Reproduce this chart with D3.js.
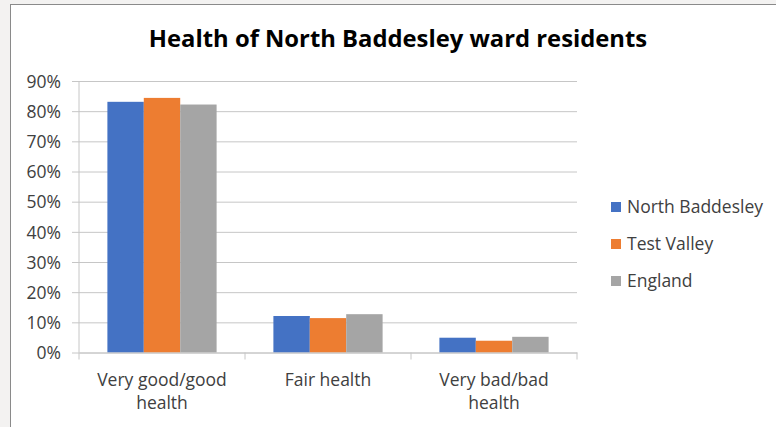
<!DOCTYPE html>
<html><head><meta charset="utf-8">
<script src="https://cdn.jsdelivr.net/npm/d3@7/dist/d3.min.js"></script>
<style>
html,body{margin:0;padding:0;background:#f3f2f1;}
svg{display:block;}
text{font-family:"Open Sans",sans-serif;fill:#404040;}
</style></head>
<body>
<script>
const categories = [["Very good/good","health"],["Fair health"],["Very bad/bad","health"]];
const seriesNames = ["North Baddesley","Test Valley","England"];
const colors = ["#4472c4","#ed7d31","#a5a5a5"];
const northBaddesley = [0.831, 0.121, 0.049];
const testValley = [0.844, 0.114, 0.039];
const england = [0.822, 0.127, 0.052];
const yTicks = [0,0.1,0.2,0.3,0.4,0.5,0.6,0.7,0.8,0.9];
const title = "Health of North Baddesley ward residents";

const W=776,H=427;
const svg=d3.select("body").append("svg").attr("width",W).attr("height",H);
svg.append("rect").attr("x",10.5).attr("y",4.5).attr("width",W).attr("height",H).attr("fill","#fff").attr("stroke","#8a8a8a").attr("stroke-width",1);

const m={left:79,right:577,top:81,bottom:352.5};
const x0=d3.scaleBand().domain(d3.range(categories.length)).range([m.left,m.right]).paddingInner(0).paddingOuter(0);
const x1=d3.scaleBand().domain(d3.range(seriesNames.length)).range([0,x0.bandwidth()]).paddingOuter(0.78).paddingInner(0);
const y=d3.scaleLinear().domain([0,0.9]).range([m.bottom,m.top]);

const yAxis=d3.axisLeft(y).tickValues(yTicks).tickFormat(d3.format(".0%")).tickSize(0).tickPadding(10);
const gy=svg.append("g").attr("transform",`translate(${m.left-7},0)`).call(yAxis);
gy.select(".domain").remove();
gy.selectAll(".tick line").attr("stroke","#c6c6c6").attr("x1",0).attr("x2",m.right-m.left+7);
gy.selectAll(".tick text").attr("x",-11).attr("dy","0.36em").style("font-size","17.5px").attr("fill","#404040");
svg.append("line").attr("x1",m.left).attr("x2",m.left).attr("y1",m.top).attr("y2",m.bottom).attr("stroke","#c6c6c6");

const series=[northBaddesley,testValley,england];
const g=svg.append("g");
categories.forEach((c,i)=>{
  series.forEach((s,j)=>{
    g.append("rect").attr("x",x0(i)+x1(j)).attr("width",x1.bandwidth())
      .attr("y",y(s[i])).attr("height",y(0)-y(s[i])).attr("fill",colors[j]);
  });
});

const xAxis=d3.axisBottom(x0).tickSize(0).tickFormat("");
const gx=svg.append("g").attr("transform",`translate(0,${m.bottom})`).call(xAxis);
gx.select(".domain").attr("stroke","#c6c6c6");
const edges=d3.range(categories.length+1).map(i=>m.left+i*x0.step());
gx.selectAll(".edge").data(edges).enter().append("line").attr("x1",d=>d).attr("x2",d=>d).attr("y1",0).attr("y2",7).attr("stroke","#c6c6c6");
categories.forEach((c,i)=>{
  const cx=x0(i)+x0.bandwidth()/2;
  const t=svg.append("text").attr("x",cx).attr("y",386).attr("text-anchor","middle").style("font-size","17.5px");
  c.forEach((line,k)=>t.append("tspan").attr("x",cx).attr("dy",k?22.5:0).text(line));
});

svg.append("text").attr("x",398).attr("y",47).attr("text-anchor","middle").style("font-size","23.8px").style("font-weight","bold").style("fill","#000").text(title);

const leg=svg.append("g");
seriesNames.forEach((n,i)=>{
  const yy=207+i*37;
  leg.append("rect").attr("x",611).attr("y",yy-5).attr("width",10).attr("height",10).attr("fill",colors[i]);
  leg.append("text").attr("x",627).attr("y",yy+6).style("font-size","17.5px").text(n);
});
</script>
</body></html>
